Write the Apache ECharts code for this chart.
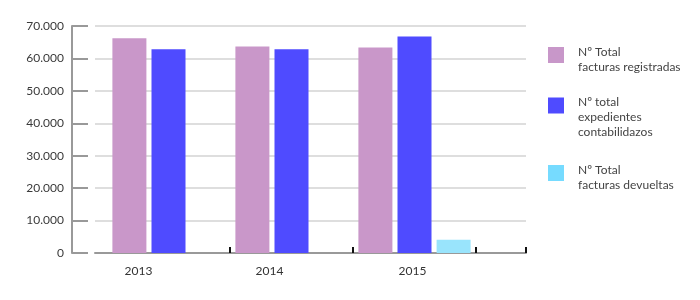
<!DOCTYPE html>
<html>
<head>
<meta charset="utf-8">
<script src="https://cdn.jsdelivr.net/npm/echarts@6/dist/echarts.min.js"></script>
<style>
html,body{margin:0;padding:0;background:#fff;}
#chart{width:700px;height:300px;}
</style>
</head>
<body>
<div id="chart"></div>
<script>
// ---- data ----
const categories = ['2013', '2014', '2015'];
const seriesNames = [
  'Nº Total\nfacturas registradas',
  'Nº total\nexpedientes\ncontabilidazos',
  'Nº Total\nfacturas devueltas'
];
const registradas = [66200, 63700, 63400];
const contabilizados = [62800, 62800, 66800];
const devueltas = [null, null, 4100];
const yTickValues = [0, 10000, 20000, 30000, 40000, 50000, 60000, 70000];
const yTickLabels = ['0', '10.000', '20.000', '30.000', '40.000', '50.000', '60.000', '70.000'];

// ---- styles ----
const barColors = ['#C997C9', '#4F4BFF', '#99E4FC'];
const legendIconColors = ['#C897C9', '#4F4BFF', '#76DBFF'];
const FONT = 'Lato';
const seriesData = [registradas, contabilizados, devueltas];

const chart = echarts.init(document.getElementById('chart'), null, {renderer: 'canvas'});

function legendFor(i, top, spacer) {
  return {
    orient: 'vertical',
    left: 548,
    top: top,
    padding: 0,
    itemWidth: 16,
    itemHeight: 16,
    selectedMode: false,
    formatter: function (name) {
      return '{s| }\n' + name.split('\n').map(l => '{t|' + l + '}').join('\n');
    },
    textStyle: {
      fontFamily: FONT, fontSize: 12, color: '#444',
      padding: [0, 0, 0, 9],
      rich: {
        s: {lineHeight: spacer, fontSize: 2, height: spacer},
        t: {fontFamily: FONT, fontSize: 12, color: '#444', lineHeight: 15}
      }
    },
    data: [{
      name: seriesNames[i],
      icon: 'rect',
      itemStyle: {color: legendIconColors[i]}
    }]
  };
}

const option = {
  animation: false,
  backgroundColor: '#fff',
  textStyle: {fontFamily: FONT},
  legend: [
    legendFor(0, 35.5, 9),
    legendFor(1, 71, 24),
    legendFor(2, 153.5, 9)
  ],
  grid: [
    {left: 95, right: 174, top: 26, bottom: 47, containLabel: false},
    {left: 107, right: 224, top: 26, bottom: 47, containLabel: false}
  ],
  xAxis: [
    {
      type: 'category', gridIndex: 0, data: categories, boundaryGap: true,
      axisLine: {show: true, lineStyle: {color: '#999', width: 2}},
      axisTick: {show: true, inside: true, length: 6, interval: (idx) => idx !== 0,
                 lineStyle: {color: '#111', width: 2}},
      axisLabel: {show: false},
      splitLine: {show: false}
    },
    {
      type: 'category', gridIndex: 1, boundaryGap: true,
      data: categories.map((c, i) => ({
        value: c,
        textStyle: {padding: [0, [60, 44, 4][i], 0, 0]}
      })),
      axisLine: {show: false},
      axisTick: {show: true, inside: true, length: 6,
                 interval: (idx, val) => val === '2014' || val === '2015',
                 lineStyle: {color: '#111', width: 2}},
      axisLabel: {show: true, margin: 12, fontFamily: FONT, fontSize: 12, color: '#333'},
      splitLine: {show: false}
    }
  ],
  yAxis: [
    {
      type: 'value', gridIndex: 0, min: yTickValues[0], max: yTickValues[yTickValues.length - 1],
      interval: yTickValues[1] - yTickValues[0],
      offset: 23,
      axisLine: {show: true, lineStyle: {color: '#999', width: 2}},
      axisTick: {show: true, inside: true, length: 16, lineStyle: {color: '#999', width: 2}},
      axisLabel: {
        show: true, margin: 8, fontFamily: FONT, fontSize: 12, color: '#3a3a3a',
        formatter: v => yTickLabels[yTickValues.indexOf(v)]
      },
      splitLine: {show: true, lineStyle: {color: '#dedede', width: 2}}
    },
    {
      type: 'value', gridIndex: 1, min: yTickValues[0], max: yTickValues[yTickValues.length - 1],
      interval: yTickValues[1] - yTickValues[0],
      axisLine: {show: false}, axisTick: {show: false}, axisLabel: {show: false},
      splitLine: {show: false}
    }
  ],
  series: seriesNames.map((name, i) => ({
    name: name,
    type: 'bar',
    xAxisIndex: 1,
    yAxisIndex: 1,
    barWidth: 34,
    barGap: '15%',
    itemStyle: {color: barColors[i]},
    data: seriesData[i]
  }))
};

chart.setOption(option);
</script>
</body>
</html>
